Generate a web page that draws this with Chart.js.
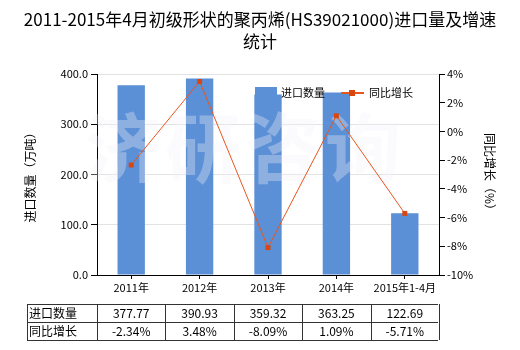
<!DOCTYPE html>
<html>
<head>
<meta charset="utf-8">
<script src="https://cdn.jsdelivr.net/npm/chart.js@4"></script>
<style>
  html, body { margin: 0; padding: 0; background: #fff; }
  #wrap { width: 520px; height: 350px; }
</style>
</head>
<body>
<div id="wrap"><canvas id="importchart" width="520" height="350"></canvas></div>
<script>
const categories = ["2011年", "2012年", "2013年", "2014年", "2015年1-4月"];
const importVolume = [377.77, 390.93, 359.32, 363.25, 122.69];
const yoyGrowth = [-2.34, 3.48, -8.09, 1.09, -5.71];
const volumeLabels = ["377.77", "390.93", "359.32", "363.25", "122.69"];
const growthLabels = ["-2.34%", "3.48%", "-8.09%", "1.09%", "-5.71%"];
const titleLines = ["2011-2015年4月初级形状的聚丙烯(HS39021000)进口量及增速", "统计"];

const FONT = "'Noto Sans CJK SC', 'Noto Sans', sans-serif";
const BLUE = "#5B8FD6";
const ORANGE = "#E8561C";

// title, watermark, legend and the data table are drawn by hand
const extras = {
  id: "extras",
  afterDatasetDraw(chart, args) {
    if (args.index !== 0) return;
    const ctx = chart.ctx;
    ctx.save();
    ctx.font = "bold 76px " + FONT;
    ctx.fillStyle = "rgba(242, 243, 250, 0.33)";
    ctx.textAlign = "center";
    ctx.textBaseline = "middle";
    const chars = ["济", "研", "咨", "询"];
    chars.forEach((c, i) => ctx.fillText(c, 123 + i * 80, 148));
    ctx.restore();
  },
  afterDraw(chart) {
    const ctx = chart.ctx;
    const x = chart.scales.x;
    ctx.save();

    // title
    ctx.fillStyle = "#000";
    ctx.textAlign = "center";
    ctx.textBaseline = "middle";
    ctx.font = "17px " + FONT;
    ctx.fillText(titleLines[0], 260, 20);
    ctx.fillText(titleLines[1], 260, 42);

    // legend
    ctx.font = "11px " + FONT;
    ctx.textAlign = "left";
    ctx.fillStyle = BLUE;
    ctx.fillRect(255, 87, 22, 14);
    ctx.fillStyle = "#000";
    ctx.fillText("进口数量", 281, 93);
    ctx.strokeStyle = ORANGE;
    ctx.lineWidth = 2;
    ctx.beginPath();
    ctx.moveTo(341, 93);
    ctx.lineTo(364, 93);
    ctx.stroke();
    ctx.fillStyle = "#D9470F";
    ctx.fillRect(349, 90, 6, 6);
    ctx.fillStyle = "#000";
    ctx.fillText("同比增长", 369, 93);

    // table
    const left = 27, right = 438, top = 304, rowH = 18;
    const step = x.getPixelForValue(1) - x.getPixelForValue(0);
    const firstCol = x.getPixelForValue(0) - step / 2;
    ctx.strokeStyle = "#333";
    ctx.lineWidth = 1;
    ctx.beginPath();
    for (let r = 0; r <= 2; r++) {
      ctx.moveTo(left, top + r * rowH + 0.5);
      ctx.lineTo(right, top + r * rowH + 0.5);
    }
    ctx.moveTo(left + 0.5, top);
    ctx.lineTo(left + 0.5, top + 2 * rowH);
    for (let i = 0; i <= categories.length; i++) {
      const cx = Math.round(firstCol + i * step) + 0.5;
      ctx.moveTo(cx, top);
      ctx.lineTo(cx, top + 2 * rowH);
    }
    ctx.stroke();

    ctx.fillStyle = "#000";
    ctx.font = "12px " + FONT;
    ctx.textAlign = "left";
    ctx.fillText("进口数量", left + 2, top + rowH / 2);
    ctx.fillText("同比增长", left + 2, top + rowH * 1.5);
    ctx.textAlign = "center";
    categories.forEach((c, i) => {
      const cx = x.getPixelForValue(i);
      ctx.fillText(volumeLabels[i], cx, top + rowH / 2);
      ctx.fillText(growthLabels[i], cx, top + rowH * 1.5);
    });
    ctx.restore();
  },
};

new Chart(document.getElementById("importchart").getContext("2d"), {
  type: "bar",
  data: {
    labels: categories,
    datasets: [
      {
        type: "bar",
        label: "进口数量",
        data: importVolume,
        backgroundColor: BLUE,
        yAxisID: "y",
        barPercentage: 0.8,
        categoryPercentage: 0.5,
        order: 1,
      },
      {
        type: "line",
        label: "同比增长",
        data: yoyGrowth,
        borderColor: ORANGE,
        borderWidth: 1,
        backgroundColor: "#D9470F",
        pointStyle: "rect",
        pointRadius: 3.5,
        pointBorderWidth: 0,
        tension: 0,
        yAxisID: "y1",
        order: 0,
      },
    ],
  },
  options: {
    responsive: false,
    animation: false,
    layout: { padding: { top: 74, left: 0, right: 0, bottom: 0 } },
    plugins: {
      legend: { display: false },
      title: { display: false },
      tooltip: { enabled: false },
    },
    scales: {
      x: {
        afterFit: (s) => { s.height = 75; },
        grid: { display: true, drawOnChartArea: false, offset: false, tickLength: 4, color: "#000" },
        border: { color: "#000" },
        ticks: {
          color: "#000",
          font: { family: FONT, size: 11 },
          padding: 2,
          maxRotation: 0,
          minRotation: 0,
          autoSkip: false,
        },
      },
      y: {
        position: "left",
        min: 0,
        max: 400,
        afterFit: (s) => { s.width = 97; },
        ticks: {
          stepSize: 100,
          color: "#000",
          padding: 3,
          font: { family: FONT, size: 11 },
          callback: (v) => v.toFixed(1),
        },
        grid: { color: "#E3E3E3", tickColor: "#000", tickLength: 6 },
        border: { color: "#000" },
        title: {
          display: true,
          text: "进口数量（万吨）",
          color: "#000",
          font: { family: FONT, size: 12 },
          padding: { top: 23, bottom: 0 },
        },
      },
      y1: {
        position: "right",
        min: -10,
        max: 4,
        afterFit: (s) => { s.width = 81; },
        ticks: {
          stepSize: 2,
          color: "#000",
          padding: 2,
          font: { family: FONT, size: 11 },
          callback: (v) => v + "%",
        },
        grid: { drawOnChartArea: false, color: "#000", tickLength: 6 },
        border: { color: "#000" },
        title: {
          display: true,
          text: "同比增长（%）",
          color: "#000",
          font: { family: FONT, size: 12 },
          padding: { top: 23, bottom: 0 },
        },
      },
    },
  },
  plugins: [extras],
});
</script>
</body>
</html>
